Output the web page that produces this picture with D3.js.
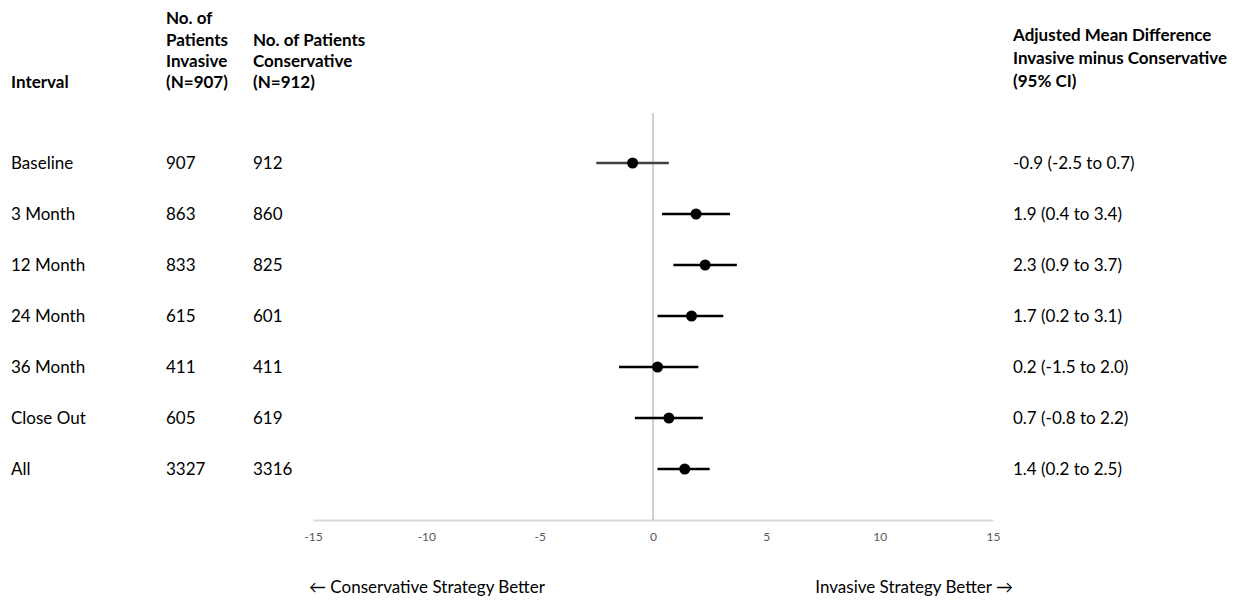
<!DOCTYPE html>
<html><head><meta charset="utf-8">
<script src="https://cdn.jsdelivr.net/npm/d3@7"></script>
<style>body{margin:0;background:#fff}svg{display:block}text{font-family:Lato,"Open Sans",sans-serif}</style>
</head><body><div id="c"></div>
<script>
const intervals = ["Baseline","3 Month","12 Month","24 Month","36 Month","Close Out","All"];
const nInvasive = [907,863,833,615,411,605,3327];
const nConservative = [912,860,825,601,411,619,3316];
const meanDiff = [-0.9,1.9,2.3,1.7,0.2,0.7,1.4];
const ciLow = [-2.5,0.4,0.9,0.2,-1.5,-0.8,0.2];
const ciHigh = [0.7,3.4,3.7,3.1,2.0,2.2,2.5];
const ciText = ["-0.9 (-2.5 to 0.7)","1.9 (0.4 to 3.4)","2.3 (0.9 to 3.7)","1.7 (0.2 to 3.1)","0.2 (-1.5 to 2.0)","0.7 (-0.8 to 2.2)","1.4 (0.2 to 2.5)"];
const xTicks = [-15,-10,-5,0,5,10,15];

const W=1257,H=604;
const svg=d3.select("#c").append("svg").attr("width",W).attr("height",H);
const x=d3.scaleLinear().domain([-15,15]).range([313,993]);
const y=d3.scalePoint().domain(intervals).range([163,469]);
const fs=17;

// headers
const hdr=svg.append("g").attr("font-weight","bold").attr("font-size",fs).attr("fill","#000");
hdr.append("text").attr("x",11).attr("y",88).text("Interval");
[["No. of",24],["Patients",46],["Invasive",67],["(N=907)",88]].forEach(d=>hdr.append("text").attr("x",166).attr("y",d[1]).text(d[0]));
[["No. of Patients",46],["Conservative",67],["(N=912)",88]].forEach(d=>hdr.append("text").attr("x",253).attr("y",d[1]).text(d[0]));
[["Adjusted Mean Difference",41],["Invasive minus Conservative",64],["(95% CI)",87]].forEach(d=>hdr.append("text").attr("x",1013).attr("y",d[1]).attr("textLength",null).text(d[0]));

// rows
const rows=svg.append("g").attr("font-size",fs).attr("fill","#000");
intervals.forEach((iv,i)=>{
  const yy=y(iv)+6;
  rows.append("text").attr("x",11).attr("y",yy).text(iv);
  rows.append("text").attr("x",166).attr("y",yy).text(nInvasive[i]);
  rows.append("text").attr("x",253).attr("y",yy).text(nConservative[i]);
  rows.append("text").attr("x",1013).attr("y",yy).text(ciText[i]);
});

// axis
const ax=svg.append("g").attr("transform","translate(0,520)")
  .call(d3.axisBottom(x).tickValues(xTicks).tickFormat(d=>String(d)).tickSize(0).tickPadding(12));
ax.select(".domain").attr("stroke","#d9d9d9").attr("stroke-width",2);
ax.selectAll("text").attr("font-family","Lato,sans-serif").attr("font-size",12).attr("fill","#595959");

// zero line
svg.append("line").attr("x1",x(0)).attr("x2",x(0)).attr("y1",113).attr("y2",520)
  .attr("stroke","#d0d0d0").attr("stroke-width",2);

// CI
const g=svg.append("g");
intervals.forEach((iv,i)=>{
  g.append("line").attr("x1",x(ciLow[i])).attr("x2",x(ciHigh[i])).attr("y1",y(iv)).attr("y2",y(iv))
    .attr("stroke",i===0?"#404040":"#000").attr("stroke-width",2.5);
  g.append("circle").attr("cx",x(meanDiff[i])).attr("cy",y(iv)).attr("r",5.5).attr("fill","#000");
});

// bottom labels
svg.append("text").attr("x",309).attr("y",593).attr("font-size",fs).text("\u2190 Conservative Strategy Better");
svg.append("text").attr("x",1013).attr("y",593).attr("font-size",fs).attr("text-anchor","end").text("Invasive Strategy Better \u2192");
</script></body></html>
